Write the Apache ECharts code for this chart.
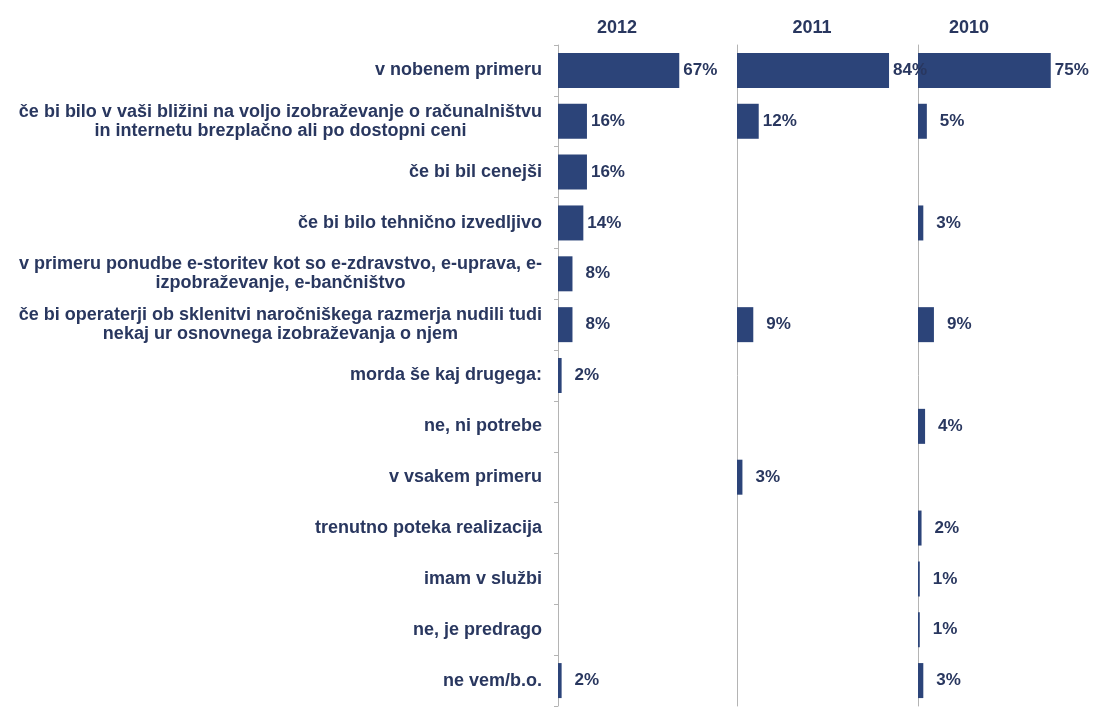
<!DOCTYPE html>
<html>
<head>
<meta charset="utf-8">
<script src="https://cdn.jsdelivr.net/npm/echarts@6/dist/echarts.min.js"></script>
<style>
  html, body { margin: 0; padding: 0; background: #fff; }
  #chart { width: 1095px; height: 708px; }
</style>
</head>
<body>
<div id="chart"></div>
<script>
// answers (one entry per row, top to bottom)
const categories = [
  "v nobenem primeru",
  "če bi bilo v vaši bližini na voljo izobraževanje o računalništvu\nin internetu brezplačno ali po dostopni ceni",
  "če bi bil cenejši",
  "če bi bilo tehnično izvedljivo",
  "v primeru ponudbe e-storitev kot so e-zdravstvo, e-uprava, e-\nizpobraževanje, e-bančništvo",
  "če bi operaterji ob sklenitvi naročniškega razmerja nudili tudi\nnekaj ur osnovnega izobraževanja o njem",
  "morda še kaj drugega:",
  "ne, ni potrebe",
  "v vsakem primeru",
  "trenutno poteka realizacija",
  "imam v službi",
  "ne, je predrago",
  "ne vem/b.o."
];

const years = ["2012", "2011", "2010"];

// null = no answer that year
const values2012 = [67, 16, 16, 14, 8, 8, 2, null, null, null, null, null, 2];
const values2011 = [84, 12, null, null, null, 9, null, null, 3, null, null, null, null];
const values2010 = [75, 5, null, 3, null, 9, null, 4, null, 2, 1, 1, 3];

const barColor = "#2C4479";
const textColor = "#29375F";
const font = "'Liberation Sans', Arial, sans-serif";

const panelLeft = [558, 737, 918];
const titleX = [612, 807, 964];

const chart = echarts.init(document.getElementById("chart"));

const seriesData = [values2012, values2011, values2010];

const grids = panelLeft.map((left) => ({
  left: left,
  top: 45,
  width: 181,
  height: 661
}));

const xAxes = panelLeft.map((left, i) => ({
  type: "value",
  gridIndex: i,
  min: 0,
  max: 100,
  show: false
}));

const yAxes = panelLeft.map((left, i) => ({
  type: "category",
  gridIndex: i,
  inverse: true,
  data: categories,
  axisLine: { show: true, lineStyle: { color: "#b4b4b4", width: 1 } },
  axisTick: { show: i === 0, length: 4, lineStyle: { color: "#b4b4b4" } },
  axisLabel: {
    show: i === 0,
    margin: 16,
    align: "right",
    color: textColor,
    fontFamily: font,
    fontWeight: "bold",
    fontSize: 18,
    lineHeight: 19,
    formatter: (v) => v.split("\n").map((line) => "{c|" + line + "}").join("\n"),
    rich: {
      c: {
        align: "center",
        color: textColor,
        fontFamily: font,
        fontWeight: "bold",
        fontSize: 18,
        lineHeight: 19
      }
    }
  }
}));

const series = seriesData.map((vals, i) => ({
  type: "bar",
  xAxisIndex: i,
  yAxisIndex: i,
  barWidth: 35,
  itemStyle: { color: barColor },
  data: vals.map((v) => v == null ? null : {
    value: v,
    label: { distance: v >= 10 ? 4 : 13 }
  }),
  label: {
    show: true,
    position: "right",
    color: textColor,
    fontFamily: font,
    fontWeight: "bold",
    fontSize: 17,
    formatter: (p) => p.value + "%"
  }
}));

const titles = years.map((y, i) => ({
  text: y,
  left: titleX[i],
  top: 14,
  textAlign: "center",
  textStyle: {
    color: textColor,
    fontFamily: font,
    fontWeight: "bold",
    fontSize: 18
  }
}));

chart.setOption({
  animation: false,
  title: titles,
  grid: grids,
  xAxis: xAxes,
  yAxis: yAxes,
  series: series
});
</script>
</body>
</html>
